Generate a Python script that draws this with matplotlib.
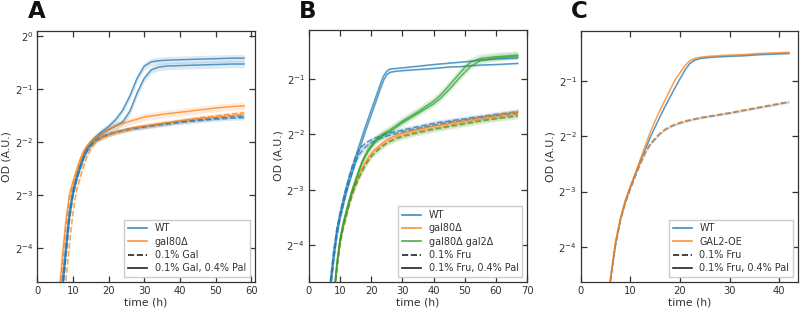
import numpy as np
import matplotlib
matplotlib.use("Agg")
import matplotlib.pyplot as plt
from matplotlib.lines import Line2D
from matplotlib.ticker import NullLocator

# ---------------- data (values are log2(OD)) ----------------
# Panel A
tA = [5, 6, 7, 8, 9, 10, 11, 12, 13, 14, 15, 16, 17, 18, 20, 22, 24, 26, 28, 30, 32, 34, 36, 40, 45, 50, 55, 58]
A_wt_pal_1 = [-5.9, -5.3, -4.64, -3.95, -3.3, -2.9, -2.65, -2.43, -2.25, -2.1, -2.0, -1.93, -1.87, -1.81, -1.71, -1.58, -1.4, -1.13, -0.8, -0.57, -0.49, -0.47, -0.46, -0.45, -0.44, -0.43, -0.42, -0.42]
A_wt_pal_2 = [-6.1, -5.5, -4.85, -4.15, -3.45, -3.0, -2.72, -2.5, -2.3, -2.15, -2.04, -1.96, -1.9, -1.85, -1.77, -1.7, -1.62, -1.42, -1.08, -0.8, -0.64, -0.59, -0.57, -0.56, -0.55, -0.54, -0.53, -0.53]
A_wt_gal_1 = [-6.0, -5.45, -4.8, -4.05, -3.4, -2.95, -2.68, -2.47, -2.28, -2.14, -2.05, -1.99, -1.94, -1.9, -1.85, -1.81, -1.78, -1.75, -1.73, -1.71, -1.69, -1.67, -1.65, -1.62, -1.58, -1.55, -1.52, -1.51]
A_wt_gal_2 = [-6.1, -5.6, -4.95, -4.2, -3.5, -3.02, -2.73, -2.5, -2.31, -2.17, -2.07, -2.0, -1.95, -1.91, -1.86, -1.82, -1.79, -1.76, -1.74, -1.72, -1.7, -1.68, -1.67, -1.63, -1.6, -1.57, -1.55, -1.54]
A_g80_pal = [-5.5, -4.95, -4.2, -3.5, -3.0, -2.75, -2.53, -2.33, -2.17, -2.07, -2.0, -1.94, -1.89, -1.85, -1.76, -1.7, -1.65, -1.61, -1.57, -1.53, -1.51, -1.49, -1.47, -1.44, -1.4, -1.36, -1.33, -1.32]
A_g80_gal_1 = [-6.5, -6.0, -5.3, -4.64, -3.95, -3.35, -2.92, -2.68, -2.45, -2.27, -2.13, -2.04, -1.98, -1.94, -1.87, -1.82, -1.78, -1.75, -1.72, -1.7, -1.68, -1.66, -1.64, -1.6, -1.55, -1.51, -1.47, -1.45]
A_g80_gal_2 = [-5.7, -5.1, -4.35, -3.62, -3.08, -2.8, -2.57, -2.37, -2.2, -2.09, -2.02, -1.97, -1.93, -1.9, -1.85, -1.81, -1.78, -1.75, -1.72, -1.7, -1.68, -1.66, -1.64, -1.6, -1.56, -1.53, -1.5, -1.48]

# Panel B
tB = [5, 6, 7, 8, 9, 10, 11, 12, 13, 14, 15, 16, 17, 18, 19, 20, 21, 22, 23, 24, 25, 26, 28, 30, 35, 40, 42, 44, 46, 48, 50, 52, 55, 60, 67]
B_wt_pal_1 = [-5.8, -5.2, -4.6, -4.1, -3.7, -3.42, -3.18, -2.95, -2.76, -2.58, -2.4, -2.22, -2.05, -1.88, -1.72, -1.56, -1.4, -1.24, -1.08, -0.94, -0.86, -0.82, -0.81, -0.8, -0.77, -0.74, -0.73, -0.72, -0.71, -0.7, -0.69, -0.68, -0.66, -0.64, -0.62]
B_wt_pal_2 = [-6.0, -5.4, -4.78, -4.25, -3.82, -3.52, -3.28, -3.05, -2.86, -2.68, -2.5, -2.32, -2.14, -1.97, -1.81, -1.65, -1.49, -1.33, -1.17, -1.02, -0.92, -0.88, -0.86, -0.85, -0.83, -0.81, -0.8, -0.79, -0.78, -0.78, -0.77, -0.76, -0.75, -0.74, -0.72]
B_wt_fru_1 = [-5.8, -5.2, -4.6, -4.1, -3.7, -3.42, -3.18, -2.95, -2.74, -2.55, -2.4, -2.29, -2.22, -2.17, -2.13, -2.1, -2.07, -2.05, -2.03, -2.01, -1.99, -1.97, -1.95, -1.92, -1.86, -1.8, -1.78, -1.77, -1.75, -1.73, -1.72, -1.7, -1.68, -1.64, -1.59]
B_wt_fru_2 = [-6.0, -5.4, -4.78, -4.25, -3.82, -3.52, -3.28, -3.05, -2.85, -2.66, -2.5, -2.38, -2.3, -2.24, -2.19, -2.15, -2.12, -2.09, -2.07, -2.05, -2.03, -2.01, -1.98, -1.95, -1.89, -1.83, -1.81, -1.79, -1.77, -1.76, -1.74, -1.72, -1.7, -1.66, -1.61]
B_g80_pal = [-6.5, -5.9, -5.35, -4.95, -4.35, -3.92, -3.65, -3.43, -3.22, -3.03, -2.88, -2.74, -2.62, -2.51, -2.42, -2.34, -2.28, -2.23, -2.18, -2.14, -2.1, -2.07, -2.02, -1.98, -1.91, -1.85, -1.83, -1.81, -1.79, -1.77, -1.75, -1.73, -1.7, -1.66, -1.59]
B_g80_fru = [-6.6, -6.0, -5.45, -5.0, -4.42, -3.97, -3.69, -3.47, -3.26, -3.07, -2.92, -2.78, -2.66, -2.55, -2.46, -2.38, -2.32, -2.27, -2.22, -2.18, -2.14, -2.11, -2.06, -2.02, -1.95, -1.89, -1.87, -1.85, -1.83, -1.81, -1.79, -1.77, -1.74, -1.7, -1.64]
B_g2_pal_1 = [-6.5, -5.9, -5.35, -4.9, -4.3, -3.88, -3.6, -3.38, -3.17, -2.98, -2.82, -2.65, -2.5, -2.38, -2.28, -2.2, -2.13, -2.07, -2.02, -1.98, -1.95, -1.92, -1.84, -1.76, -1.59, -1.4, -1.3, -1.18, -1.05, -0.92, -0.79, -0.69, -0.63, -0.6, -0.57]
B_g2_pal_2 = [-6.6, -6.0, -5.4, -4.95, -4.38, -3.93, -3.64, -3.41, -3.2, -3.01, -2.85, -2.68, -2.53, -2.41, -2.31, -2.23, -2.16, -2.1, -2.05, -2.01, -1.98, -1.95, -1.87, -1.79, -1.62, -1.45, -1.36, -1.25, -1.13, -1.0, -0.88, -0.77, -0.67, -0.62, -0.59]
B_g2_fru = [-6.6, -6.0, -5.45, -5.0, -4.42, -3.97, -3.69, -3.47, -3.26, -3.07, -2.92, -2.79, -2.68, -2.57, -2.48, -2.4, -2.34, -2.29, -2.24, -2.2, -2.16, -2.13, -2.08, -2.04, -1.97, -1.91, -1.89, -1.87, -1.85, -1.83, -1.81, -1.79, -1.76, -1.72, -1.67]

# Panel C
tC = [4, 5, 6, 7, 8, 9, 10, 11, 12, 13, 14, 15, 16, 17, 18, 19, 20, 21, 22, 23, 24, 26, 28, 30, 33, 36, 39, 42]
C_oe_pal = [-6.2, -5.3, -4.55, -3.9, -3.48, -3.15, -2.9, -2.67, -2.42, -2.17, -1.93, -1.72, -1.52, -1.34, -1.16, -0.98, -0.85, -0.72, -0.63, -0.59, -0.57, -0.55, -0.54, -0.53, -0.52, -0.5, -0.49, -0.48]
C_wt_pal = [-6.2, -5.3, -4.6, -3.95, -3.5, -3.17, -2.92, -2.68, -2.45, -2.24, -2.02, -1.83, -1.64, -1.46, -1.29, -1.12, -0.96, -0.8, -0.68, -0.62, -0.59, -0.57, -0.56, -0.55, -0.54, -0.52, -0.51, -0.5]
C_wt_fru = [-6.2, -5.3, -4.6, -3.97, -3.52, -3.2, -2.95, -2.72, -2.5, -2.3, -2.15, -2.05, -1.95, -1.88, -1.83, -1.79, -1.76, -1.73, -1.71, -1.69, -1.67, -1.64, -1.61, -1.58, -1.53, -1.48, -1.43, -1.38]
C_oe_fru = [-6.2, -5.3, -4.58, -3.95, -3.5, -3.18, -2.93, -2.7, -2.48, -2.28, -2.13, -2.03, -1.94, -1.87, -1.82, -1.78, -1.75, -1.72, -1.7, -1.68, -1.66, -1.63, -1.6, -1.57, -1.52, -1.47, -1.42, -1.37]

# band half-widths (log2 units)
band_A = 0.07
band_B = 0.05
band_C = 0.02

BLUE = "#1f77b4"
ORANGE = "#ff7f0e"
GREEN = "#2ca02c"

xlims = [(0, 61), (0, 70), (0, 43.8)]
ylims = [(-4.64, 0.094), (-4.66, -0.117), (-4.64, -0.09)]
letters = ["A", "B", "C"]

fig = plt.figure(figsize=(8.0, 3.12), dpi=100)
positions = [[0.0465, 0.096, 0.272, 0.805],
             [0.386, 0.096, 0.273, 0.808],
             [0.726, 0.096, 0.2715, 0.805]]
axes = [fig.add_axes(p) for p in positions]

def draw(ax, t, vals, color, ls, band):
    t = np.asarray(t, float)
    v = np.asarray(vals, float)
    ax.fill_between(t, 2.0 ** (v - band), 2.0 ** (v + band), color=color, alpha=0.15, lw=0)
    ax.plot(t, 2.0 ** v, color=color, ls=ls, lw=1.1, alpha=0.72)

axA, axB, axC = axes
for v in [A_wt_pal_1, A_wt_pal_2]:
    draw(axA, tA, v, BLUE, "-", band_A)
for v in [A_wt_gal_1, A_wt_gal_2]:
    draw(axA, tA, v, BLUE, "--", band_A * 0.6)
draw(axA, tA, A_g80_pal, ORANGE, "-", band_A)
for v in [A_g80_gal_1, A_g80_gal_2]:
    draw(axA, tA, v, ORANGE, "--", band_A * 0.6)

for v in [B_wt_pal_1, B_wt_pal_2]:
    draw(axB, tB, v, BLUE, "-", band_B * 0.3)
for v in [B_wt_fru_1, B_wt_fru_2]:
    draw(axB, tB, v, BLUE, "--", band_B)
draw(axB, tB, B_g80_pal, ORANGE, "-", band_B)
draw(axB, tB, B_g80_fru, ORANGE, "--", band_B)
for v in [B_g2_pal_1, B_g2_pal_2]:
    draw(axB, tB, v, GREEN, "-", band_B * 1.4)
draw(axB, tB, B_g2_fru, GREEN, "--", band_B)

draw(axC, tC, C_wt_pal, BLUE, "-", band_C)
draw(axC, tC, C_wt_fru, BLUE, "--", band_C)
draw(axC, tC, C_oe_pal, ORANGE, "-", band_C)
draw(axC, tC, C_oe_fru, ORANGE, "--", band_C)

legends = [
    [("WT", BLUE, "-"), ("gal80Δ", ORANGE, "-"), ("0.1% Gal", "#222222", "--"), ("0.1% Gal, 0.4% Pal", "#222222", "-")],
    [("WT", BLUE, "-"), ("gal80Δ", ORANGE, "-"), ("gal80Δ gal2Δ", GREEN, "-"), ("0.1% Fru", "#222222", "--"), ("0.1% Fru, 0.4% Pal", "#222222", "-")],
    [("WT", BLUE, "-"), ("GAL2-OE", ORANGE, "-"), ("0.1% Fru", "#222222", "--"), ("0.1% Fru, 0.4% Pal", "#222222", "-")],
]

for i, ax in enumerate(axes):
    ax.set_yscale("log", base=2)
    ax.set_xlim(*xlims[i])
    ax.set_ylim(2.0 ** ylims[i][0], 2.0 ** ylims[i][1])
    ax.yaxis.set_minor_locator(NullLocator())
    ax.tick_params(direction="in", top=True, right=True, length=4, width=0.9,
                   labelsize=7.2, colors="#333333", pad=3)
    for s in ax.spines.values():
        s.set_color("#333333")
        s.set_linewidth(0.9)
    ax.set_xlabel("time (h)", fontsize=7.8, color="#333333", labelpad=1)
    ax.set_ylabel("OD (A.U.)", fontsize=7.8, color="#333333", labelpad=2)
    handles = [Line2D([], [], color=c, ls=ls, lw=1.2, alpha=0.85 if c != "#222222" else 1.0)
               for (_, c, ls) in legends[i]]
    labels = [l for (l, _, _) in legends[i]]
    leg = ax.legend(handles, labels, loc="lower right", fontsize=6.9, framealpha=1.0,
                    edgecolor="#cccccc", fancybox=False, borderpad=0.4, labelspacing=0.35,
                    handlelength=2.0)
    for txt in leg.get_texts():
        txt.set_color("#333333")
    pos = ax.get_position()
    fig.text(pos.x0 - 0.012, 0.962, letters[i], fontsize=16.5, fontweight="bold",
             ha="left", va="center", color="#111111")

fig.savefig("out.png", dpi=100)
